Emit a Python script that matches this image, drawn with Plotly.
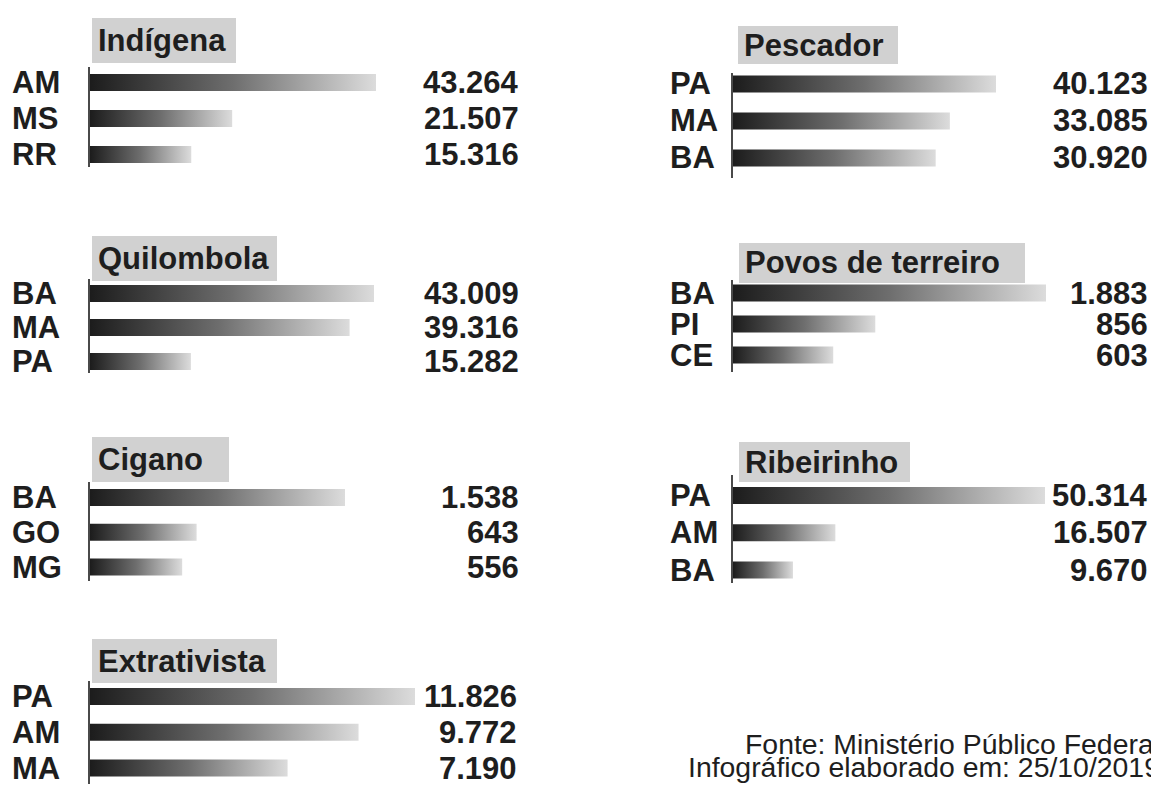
import plotly.graph_objects as go

W, H = 1151, 789

# ---------------- data ----------------
titulos = ["Indígena", "Quilombola", "Cigano", "Extrativista",
           "Pescador", "Povos de terreiro", "Ribeirinho"]

estados_indigena = ["AM", "MS", "RR"]
valores_indigena = [43264, 21507, 15316]

estados_quilombola = ["BA", "MA", "PA"]
valores_quilombola = [43009, 39316, 15282]

estados_cigano = ["BA", "GO", "MG"]
valores_cigano = [1538, 643, 556]

estados_extrativista = ["PA", "AM", "MA"]
valores_extrativista = [11826, 9772, 7190]

estados_pescador = ["PA", "MA", "BA"]
valores_pescador = [40123, 33085, 30920]

estados_terreiro = ["BA", "PI", "CE"]
valores_terreiro = [1883, 856, 603]

estados_ribeirinho = ["PA", "AM", "BA"]
valores_ribeirinho = [50314, 16507, 9670]

fonte = "Fonte: Ministério Público Federal"
elaborado = "Infográfico elaborado em: 25/10/2019"

estados = [estados_indigena, estados_quilombola, estados_cigano, estados_extrativista,
           estados_pescador, estados_terreiro, estados_ribeirinho]
valores = [valores_indigena, valores_quilombola, valores_cigano, valores_extrativista,
           valores_pescador, valores_terreiro, valores_ribeirinho]

# ---------------- layout geometry (pixels) ----------------
geom = [
    dict(ax=90, end=376, top=67, bot=167, c0=82.5, c2=154.5, box=(92, 236, 18, 63), lab=10, valr=521),
    dict(ax=90, end=374, top=279, bot=373, c0=293.5, c2=361.5, box=(92, 277, 236, 281), lab=10, valr=521),
    dict(ax=90, end=345, top=482, bot=581, c0=497.5, c2=567, box=(92, 229, 437, 482), lab=10, valr=521),
    dict(ax=90, end=415, top=681, bot=784, c0=696.5, c2=768, box=(92, 277, 639, 683), lab=10, valr=519),
    dict(ax=733, end=996, top=73, bot=178, c0=84, c2=158, box=(738, 898, 26, 64), lab=668, valr=1150),
    dict(ax=733, end=1046, top=280, bot=372, c0=293, c2=355, box=(739, 1025, 243, 283), lab=668, valr=1150),
    dict(ax=733, end=1045, top=475, bot=583, c0=495.5, c2=570, box=(739, 910, 442, 482), lab=668, valr=1150),
]

FONT = "Liberation Sans, Arial, Helvetica, sans-serif"
TXT = "#1e1e1e"
BAR_H = 17


def px(p):
    return p / W


def py(p):
    return 1 - p / H


def fmt(v):
    return f"{v:,}".replace(",", ".")


fig = go.Figure()
layout_axes = {}
annotations = []
shapes = []

for i, (tit, est, val, g) in enumerate(zip(titulos, estados, valores, geom)):
    n = i + 1
    xa = "x" if n == 1 else f"x{n}"
    ya = "y" if n == 1 else f"y{n}"
    s = (g["c2"] - g["c0"]) / 2.0
    r_top = -(g["c0"] - g["top"]) / s
    r_bot = 2 + (g["bot"] - g["c2"]) / s
    hb = (BAR_H / 2.0) / s

    for j, (e, v) in enumerate(zip(est, val)):
        fig.add_trace(go.Scatter(
            x=[0, v, v, 0, 0],
            y=[j - hb, j - hb, j + hb, j + hb, j - hb],
            fill="toself", mode="lines", line=dict(width=0, color="rgba(0,0,0,0)"),
            fillgradient=dict(type="horizontal",
                              colorscale=[[0, "#1c1c1c"], [0.5, "#6e6e6e"], [1, "#dcdcdc"]]),
            xaxis=xa, yaxis=ya, showlegend=False, hoverinfo="skip", name=e,
        ))
        annotations.append(dict(
            x=px(g["lab"]), xref="paper", y=j, yref=ya, xanchor="left", yanchor="middle",
            text=e, showarrow=False,
            font=dict(family=FONT, size=31, color=TXT, weight="bold"),
        ))
        annotations.append(dict(
            x=px(g["valr"]), xref="paper", y=j, yref=ya, xanchor="right", yanchor="middle",
            text=fmt(v), showarrow=False,
            font=dict(family=FONT, size=31, color=TXT, weight="bold"),
        ))

    layout_axes["xaxis" if n == 1 else f"xaxis{n}"] = dict(
        domain=[px(g["ax"]), px(g["end"])], range=[0, max(val)], visible=False,
        anchor=ya, fixedrange=True,
    )
    layout_axes["yaxis" if n == 1 else f"yaxis{n}"] = dict(
        domain=[py(g["bot"]), py(g["top"])], range=[r_bot, r_top],
        showline=True, linecolor="#4a4a4a", linewidth=2, showticklabels=False,
        showgrid=False, zeroline=False, ticks="", anchor=xa, fixedrange=True,
    )

    bx0, bx1, by0, by1 = g["box"]
    shapes.append(dict(type="rect", xref="paper", yref="paper",
                       x0=px(bx0), x1=px(bx1), y0=py(by1), y1=py(by0),
                       fillcolor="#d1d1d1", line=dict(width=0), layer="below"))
    annotations.append(dict(
        x=px(bx0 + 4), xref="paper", y=py((by0 + by1) / 2.0), yref="paper",
        xanchor="left", yanchor="middle", text=tit, showarrow=False,
        font=dict(family=FONT, size=31, color=TXT, weight="bold"),
    ))

annotations.append(dict(
    x=px(1162), xref="paper", y=py(744), yref="paper", xanchor="right", yanchor="middle",
    text=fonte, showarrow=False, font=dict(family=FONT, size=28.4, color=TXT),
))
annotations.append(dict(
    x=px(1162), xref="paper", y=py(767), yref="paper", xanchor="right", yanchor="middle",
    text=elaborado, showarrow=False, font=dict(family=FONT, size=28.4, color=TXT),
))

fig.update_layout(
    width=W, height=H,
    margin=dict(l=0, r=0, t=0, b=0),
    paper_bgcolor="white", plot_bgcolor="rgba(0,0,0,0)",
    showlegend=False,
    annotations=annotations, shapes=shapes,
    **layout_axes,
)

fig.write_html(
    "out.html",
    config={"displayModeBar": False},
    post_script="document.body.style.margin='0';document.body.style.padding='0';",
)
